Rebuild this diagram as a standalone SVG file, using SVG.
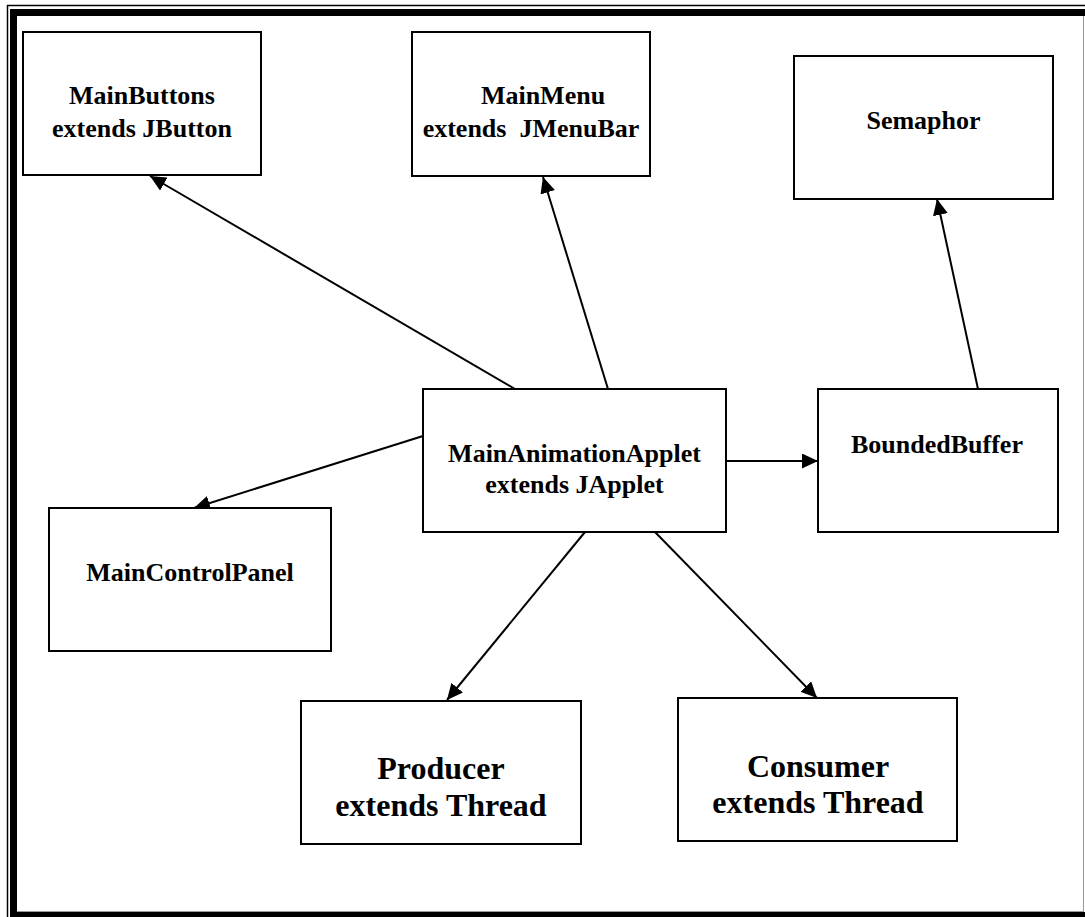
<svg xmlns="http://www.w3.org/2000/svg" width="1085" height="917" viewBox="0 0 1085 917">
  <style>
    .box { fill: #ffffff; stroke: #000000; stroke-width: 2; }
    .lbl { font-family: "Liberation Serif", "Times New Roman", serif; font-weight: bold; font-size: 26px; fill: #000000; text-anchor: middle; }
    .big { font-size: 32px; }
    .link { stroke: #000000; stroke-width: 2; fill: none; marker-end: url(#arrow); }
  </style>
  <defs>
    <marker id="arrow" markerUnits="userSpaceOnUse" markerWidth="16" markerHeight="15" refX="16" refY="7.5" orient="auto">
      <path d="M0,0 L16,7.5 L0,15 Z" fill="#000000"/>
    </marker>
  </defs>

  <!-- page background -->
  <rect x="0" y="0" width="1085" height="917" fill="#ffffff"/>

  <!-- thin-thick page frame -->
  <g id="frame">
    <path d="M7.5,917 V5.5 H1085" fill="none" stroke="#000000" stroke-width="1.5"/>
    <path d="M13.5,917 V12.5 H1085" fill="none" stroke="#000000" stroke-width="7"/>
    <rect x="10" y="912" width="1075" height="5" fill="#000000"/>
    <line x1="1083.5" y1="16" x2="1083.5" y2="912" stroke="#9a9a9a" stroke-width="1"/>
    <line x1="17" y1="911.5" x2="1083" y2="911.5" stroke="#9a9a9a" stroke-width="1"/>
  </g>

  <!-- connectors -->
  <g id="connectors">
    <line class="link" x1="515" y1="389" x2="150" y2="176"/>
    <line class="link" x1="608" y1="389" x2="543" y2="177"/>
    <line class="link" x1="978" y1="389" x2="937" y2="199"/>
    <line class="link" x1="423" y1="436" x2="194" y2="508"/>
    <line class="link" x1="726" y1="461" x2="818" y2="461"/>
    <line class="link" x1="585" y1="532" x2="447" y2="700"/>
    <line class="link" x1="655" y1="532" x2="817" y2="698"/>
  </g>

  <!-- class nodes -->
  <g id="main-buttons">
    <rect class="box" x="23" y="32" width="238" height="143"/>
    <text class="lbl" x="142" y="104">MainButtons</text>
    <text class="lbl" x="142" y="137">extends JButton</text>
  </g>

  <g id="main-menu">
    <rect class="box" x="412" y="32" width="238" height="144"/>
    <text class="lbl" x="543" y="104">MainMenu</text>
    <text class="lbl" x="531" y="137" xml:space="preserve">extends  JMenuBar</text>
  </g>

  <g id="semaphor">
    <rect class="box" x="794" y="56" width="259" height="143"/>
    <text class="lbl" x="923.5" y="129">Semaphor</text>
  </g>

  <g id="main-animation-applet">
    <rect class="box" x="423" y="389" width="303" height="143"/>
    <text class="lbl" x="574.5" y="462">MainAnimationApplet</text>
    <text class="lbl" x="574.5" y="493">extends JApplet</text>
  </g>

  <g id="bounded-buffer">
    <rect class="box" x="818" y="389" width="240" height="143"/>
    <text class="lbl" x="937" y="453">BoundedBuffer</text>
  </g>

  <g id="main-control-panel">
    <rect class="box" x="49" y="508" width="282" height="143"/>
    <text class="lbl" x="190" y="581">MainControlPanel</text>
  </g>

  <g id="producer">
    <rect class="box" x="301" y="701" width="280" height="143"/>
    <text class="lbl big" x="441" y="779">Producer</text>
    <text class="lbl big" x="441" y="816">extends Thread</text>
  </g>

  <g id="consumer">
    <rect class="box" x="678" y="698" width="279" height="143"/>
    <text class="lbl big" x="818" y="777">Consumer</text>
    <text class="lbl big" x="818" y="813">extends Thread</text>
  </g>
</svg>
